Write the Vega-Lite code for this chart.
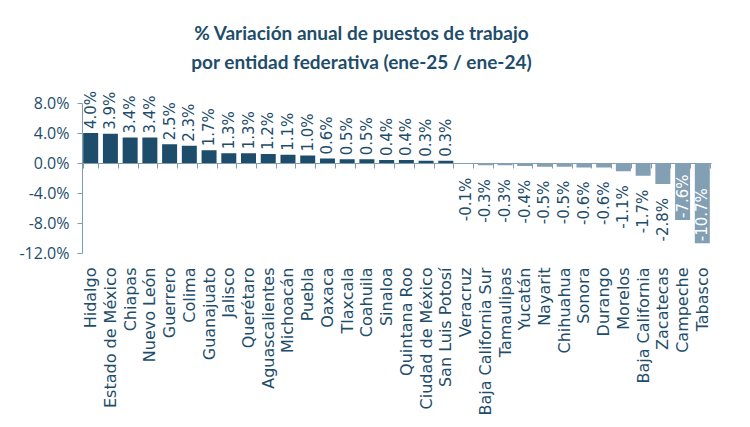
{
  "$schema": "https://vega.github.io/schema/vega-lite/v6.json",
  "autosize": {"type": "none"},
  "padding": {"left": 82, "top": 103, "right": 39, "bottom": 174},
  "width": 629,
  "height": 150,
  "background": "white",
  "title": {
    "text": ["% Variación anual de puestos de trabajo", "por entidad federativa (ene-25 / ene-24)"],
    "font": "Lato", "fontSize": 19, "fontWeight": "bold", "color": "#1e4d6b",
    "lineHeight": 29, "anchor": "middle", "dx": -35, "offset": 18
  },
  "config": {
    "view": {"stroke": null},
    "locale": {"number": {"decimal": ".", "thousands": ",", "grouping": [3], "currency": ["$", ""], "minus": "-"}}
  },
  "data": {"values": [
    {"estado": "Hidalgo", "v": 0.040},
    {"estado": "Estado de México", "v": 0.039},
    {"estado": "Chiapas", "v": 0.034},
    {"estado": "Nuevo León", "v": 0.034},
    {"estado": "Guerrero", "v": 0.025},
    {"estado": "Colima", "v": 0.023},
    {"estado": "Guanajuato", "v": 0.017},
    {"estado": "Jalisco", "v": 0.013},
    {"estado": "Querétaro", "v": 0.013},
    {"estado": "Aguascalientes", "v": 0.012},
    {"estado": "Michoacán", "v": 0.011},
    {"estado": "Puebla", "v": 0.010},
    {"estado": "Oaxaca", "v": 0.006},
    {"estado": "Tlaxcala", "v": 0.005},
    {"estado": "Coahuila", "v": 0.005},
    {"estado": "Sinaloa", "v": 0.004},
    {"estado": "Quintana Roo", "v": 0.004},
    {"estado": "Ciudad de México", "v": 0.003},
    {"estado": "San Luis Potosí", "v": 0.003},
    {"estado": "Veracruz", "v": -0.001},
    {"estado": "Baja California Sur", "v": -0.003},
    {"estado": "Tamaulipas", "v": -0.003},
    {"estado": "Yucatán", "v": -0.004},
    {"estado": "Nayarit", "v": -0.005},
    {"estado": "Chihuahua", "v": -0.005},
    {"estado": "Sonora", "v": -0.006},
    {"estado": "Durango", "v": -0.006},
    {"estado": "Morelos", "v": -0.011},
    {"estado": "Baja California", "v": -0.017},
    {"estado": "Zacatecas", "v": -0.028},
    {"estado": "Campeche", "v": -0.076},
    {"estado": "Tabasco", "v": -0.107}
  ]},
  "encoding": {
    "x": {
      "field": "estado", "type": "nominal", "sort": null,
      "scale": {"paddingInner": 0.24, "paddingOuter": 0.06},
      "axis": {
        "title": null, "offset": -90, "domainColor": "#7f9db2", "tickColor": "#7f9db2",
        "tickSize": 5, "tickBand": "extent", "labelAngle": -90, "labelAlign": "right",
        "labelBaseline": "middle", "labelPadding": 99, "labelFont": "DejaVu Sans",
        "labelFontSize": 16, "labelColor": "#1e4d6b"
      }
    },
    "y": {
      "field": "v", "type": "quantitative",
      "scale": {"domain": [-0.12, 0.08], "nice": false},
      "axis": {
        "title": null, "values": [-0.12, -0.08, -0.04, 0, 0.04, 0.08], "format": ".1%",
        "grid": false, "domainColor": "#7f9db2", "tickColor": "#7f9db2", "tickSize": 5,
        "labelFont": "Open Sans", "labelFontSize": 16, "labelColor": "#1e4d6b", "labelPadding": 8
      }
    }
  },
  "layer": [
    {
      "mark": {"type": "bar"},
      "encoding": {
        "color": {"condition": {"test": "datum.v > 0", "value": "#1e4d6b"}, "value": "#839fb3"}
      }
    },
    {
      "transform": [{"filter": "datum.v > 0"}],
      "mark": {"type": "text", "angle": -90, "align": "left", "baseline": "middle", "dx": 4,
               "font": "DejaVu Sans", "fontSize": 15, "color": "#1e4d6b"},
      "encoding": {"text": {"field": "v", "type": "quantitative", "format": ".1%"}}
    },
    {
      "transform": [{"filter": "datum.v < 0 && datum.v > -0.05"}],
      "mark": {"type": "text", "angle": -90, "align": "right", "baseline": "middle", "dx": -14,
               "font": "DejaVu Sans", "fontSize": 15, "color": "#1e4d6b"},
      "encoding": {"text": {"field": "v", "type": "quantitative", "format": ".1%"}}
    },
    {
      "transform": [{"filter": "datum.v <= -0.05"}],
      "mark": {"type": "text", "angle": -90, "align": "left", "baseline": "middle", "dx": 2,
               "font": "DejaVu Sans", "fontSize": 15, "color": "white"},
      "encoding": {"text": {"field": "v", "type": "quantitative", "format": ".1%"}}
    }
  ]
}
